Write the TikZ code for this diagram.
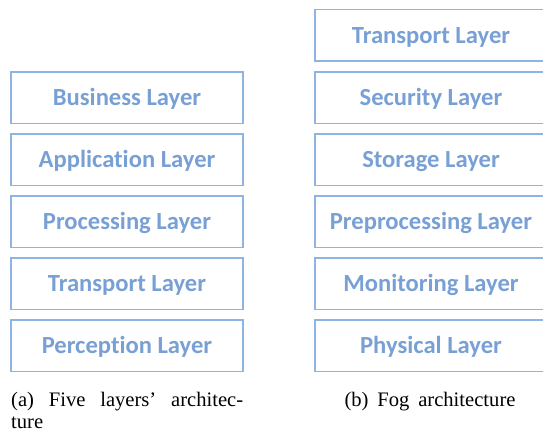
\documentclass[tikz,border=0pt]{standalone}
\usepackage{fontspec}
\setmainfont[Ligatures=NoCommon]{Carlito}
\newfontfamily\capfont{Liberation Serif}
\definecolor{boxline}{HTML}{8EB4E3}
\definecolor{boxtext}{HTML}{78A0D4}
\begin{document}
\begin{tikzpicture}[x=1pt,y=-1pt,
  layer/.style={draw=boxline, line width=1.8pt, inner sep=0pt,
    minimum height=51.5pt, minimum width=232pt, text=boxtext,
    font=\fontsize{24.6}{28}\selectfont\bfseries,
    text height=15.8pt, text depth=0pt},
  captext/.style={inner sep=0pt, font=\capfont\fontsize{20.6}{22}\selectfont}]
\useasboundingbox (0,0) rectangle (543,434);
% left: five layers
\node[layer] (a1) at (127,97.75)  {Business Layer};
\node[layer] (a2) at (127,159.75) {Application Layer};
\node[layer] (a3) at (127,221.75) {Processing Layer};
\node[layer] (a4) at (127,283.75) {Transport Layer};
\node[layer] (a5) at (127,345.75) {Perception Layer};
% right: fog
\node[layer] (b1) at (431,35.25)  {Transport Layer};
\node[layer] (b2) at (431,97.75)  {Security Layer};
\node[layer] (b3) at (431,159.75) {Storage Layer};
\node[layer] (b4) at (431,221.75) {Preprocessing Layer};
\node[layer] (b5) at (431,283.75) {Monitoring Layer};
\node[layer] (b6) at (431,345.75) {Physical Layer};
% captions
\node[captext, anchor=base west] (capa1) at (11,406)
  {\makebox[232pt][s]{(a) Five layers’ architec-}};
\node[captext, anchor=base west] (capa2) at (11,428) {ture};
\node[captext, anchor=base] (capb) at (430,406)
  {\makebox[171pt][s]{(b) Fog architecture}};
\end{tikzpicture}
\end{document}
